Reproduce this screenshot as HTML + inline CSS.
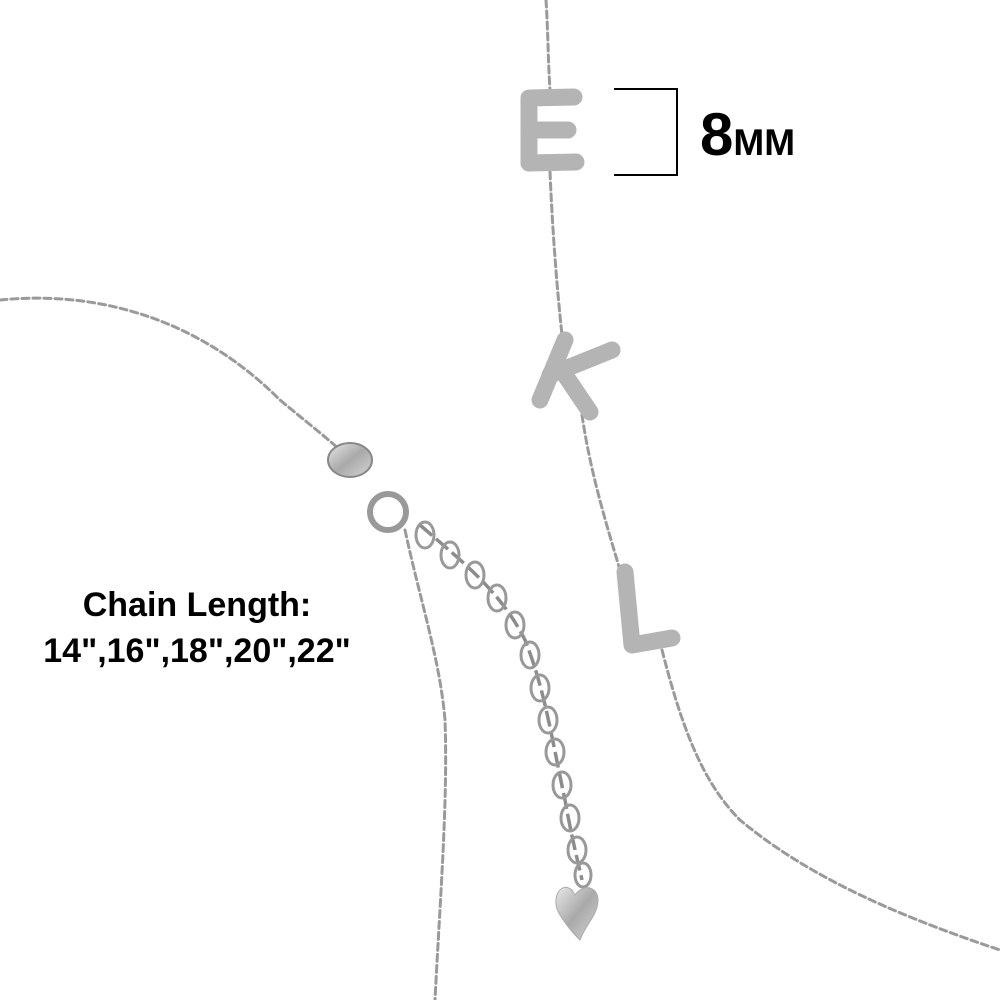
<!DOCTYPE html>
<html><head><meta charset="utf-8"><style>
html,body{margin:0;padding:0;background:#fff;width:1000px;height:1000px;overflow:hidden}
</style></head><body>
<svg width="1000" height="1000" viewBox="0 0 1000 1000" xmlns="http://www.w3.org/2000/svg">
<defs>
<linearGradient id="sv" x1="0" y1="0" x2="1" y2="1">
<stop offset="0" stop-color="#e8e8e8"/><stop offset="0.5" stop-color="#a9a9a9"/><stop offset="1" stop-color="#d5d5d5"/>
</linearGradient>
</defs>
<g fill="none" stroke="#9a9a9a" stroke-width="3" stroke-dasharray="7 4" stroke-linecap="round">
<path d="M546 0 C548 30 548 60 550 90"/>
<path d="M550 172 C552 220 556 280 562 335"/>
<path d="M582 415 C590 470 605 520 620 570"/>
<path d="M662 650 C680 720 700 780 740 820 C800 870 880 910 1000 950"/>
<path d="M0 300 C100 290 200 320 280 400 C310 425 330 440 345 455"/>
<path d="M405 530 C420 600 440 660 445 720 C448 800 440 900 435 1000"/>
</g>
<g fill="none" stroke="#8c8c8c" stroke-width="3.5">
<path d="M420 525 C460 560 500 590 525 640 C545 690 552 740 565 800 C572 840 580 870 582 880" stroke-dasharray="16 5"/>
</g>
<g fill="none" stroke="#999" stroke-width="3">
<ellipse cx="425" cy="535" rx="9" ry="13"/><ellipse cx="450" cy="555" rx="9" ry="13"/><ellipse cx="475" cy="575" rx="9" ry="13"/>
<ellipse cx="497" cy="598" rx="9" ry="13"/><ellipse cx="515" cy="625" rx="9" ry="13"/><ellipse cx="530" cy="655" rx="9" ry="13"/>
<ellipse cx="540" cy="688" rx="9" ry="13"/><ellipse cx="548" cy="720" rx="9" ry="13"/><ellipse cx="555" cy="752" rx="9" ry="13"/>
<ellipse cx="562" cy="785" rx="9" ry="13"/><ellipse cx="570" cy="818" rx="9" ry="13"/><ellipse cx="577" cy="850" rx="9" ry="13"/>
<ellipse cx="583" cy="875" rx="8" ry="12"/>
</g>
<path d="M572 890 C560 880 550 900 560 915 C568 928 575 935 580 940 C585 925 598 915 598 900 C598 888 585 882 575 895 Z" fill="url(#sv)" stroke="#aaa"/>
<ellipse cx="350" cy="460" rx="22" ry="17" fill="url(#sv)" stroke="#888" stroke-width="2"/>
<circle cx="388" cy="512" r="18" fill="none" stroke="#999" stroke-width="6"/>
<g fill="none" stroke="#b4b4b4" stroke-width="17" stroke-linecap="round" stroke-linejoin="round">
<path d="M529 99 L529 163"/>
<path d="M529 98 L574 97"/>
<path d="M529 130 L568 130"/>
<path d="M529 163 L576 162"/>
<path d="M565 340 L540 400"/>
<path d="M550 375 L612 350"/>
<path d="M563 372 L590 412"/>
<path d="M625 572 L632 645 L672 638"/>
</g>
<path d="M614 89 L677 89 L677 175 L614 175" fill="none" stroke="#000" stroke-width="2"/>
<text x="700" y="155" font-family="Liberation Sans, sans-serif" font-weight="bold" font-size="60" fill="#000">8<tspan font-size="37">MM</tspan></text>
<text x="197" y="616" text-anchor="middle" font-family="Liberation Sans, sans-serif" font-weight="bold" font-size="34" fill="#000">Chain Length:</text>
<text x="197" y="662" text-anchor="middle" font-family="Liberation Sans, sans-serif" font-weight="bold" font-size="34" fill="#000">14",16",18",20",22"</text>
</svg>
</body></html>
